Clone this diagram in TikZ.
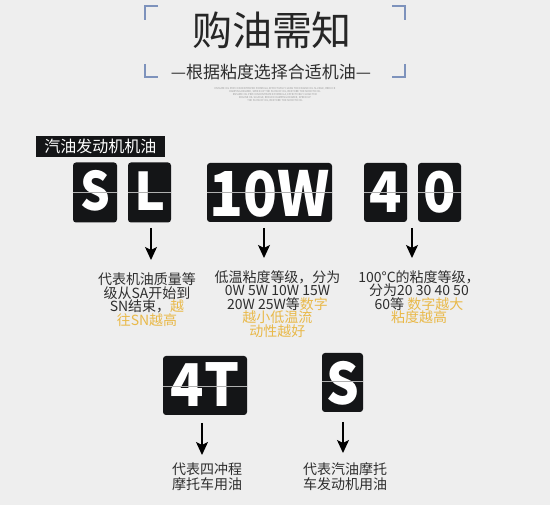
\documentclass[tikz,border=0pt]{standalone}
\usepackage{fontspec}
\setmainfont{Noto Sans CJK SC}
\usetikzlibrary{arrows.meta}
\definecolor{bg}{HTML}{EEEEEE}
\definecolor{tilec}{HTML}{141517}
\definecolor{gold}{HTML}{E9B949}
\definecolor{txt}{HTML}{2E2E2E}
\definecolor{brk}{HTML}{7D92BC}
\definecolor{midc}{HTML}{B0B0B0}
\newcommand{\tiletext}[3]{\fontsize{#1}{#1}\selectfont\bfseries\scalebox{#2}[1]{#3}}
\begin{document}
\begin{tikzpicture}[x=1pt,y=-1pt,
  tilebox/.style={fill=tilec, rounded corners=3pt, draw=none, inner sep=0pt},
  tiletxt/.style={text=white, inner sep=0pt, anchor=base},
  midline/.style={draw=midc, line width=0.8pt},
  brkline/.style={draw=brk, line width=1.3pt},
  arr/.style={draw=black, line width=1.3pt, -{Stealth[length=13pt,width=12pt,inset=3pt]}},
  desc/.style={text=txt, inner sep=0pt, anchor=north, align=center, font=\fontsize{14}{13.6}\selectfont},
  desc2/.style={text=txt, inner sep=0pt, anchor=north, align=center, font=\fontsize{14}{15}\selectfont}
]
\fill[bg] (0,0) rectangle (550,505);
\useasboundingbox (0,0) rectangle (550,505);

% title
\node[text=black!85, inner sep=0pt, font=\fontsize{40}{40}\selectfont] (title) at (272,30) {购油需知};
\node[text=txt, inner sep=0pt, font=\fontsize{17}{17}\selectfont] (sub) at (271,72) {—根据粘度选择合适机油—};
\draw[brkline] (158,6) -- (145,6) -- (145,20);
\draw[brkline] (392,6) -- (405,6) -- (405,20);
\draw[brkline] (145,64) -- (145,77) -- (158,77);
\draw[brkline] (405,64) -- (405,77) -- (392,77);
\node[text=black!40, inner sep=0pt, align=center, font=\fontsize{2.6}{3}\selectfont] (tiny) at (275,95)
 {ENSURE OIL PER CONCENTRATED FORMULA, EFFECTIVELY CLEAN THE ENGINE OIL SLUDGE, REDUCE\\
  DAMPING DEGREE, SPEED UP THE FLOW OF OIL, RESTORE THE SMOOTH OIL\\
  ENSURE OIL PER CONCENTRATED FORMULA, EFFECTIVELY CLEAN THE\\
  ENGINE OIL SLUDGE, REDUCE DAMPING DEGREE, SPEED UP\\
  THE FLOW OF OIL, RESTORE THE SMOOTH OIL};

% label box
\node[fill=tilec, text=white, inner sep=0pt, minimum width=129, minimum height=21, font=\fontsize{16}{16}\selectfont] (lbl) at (100.5,146.5) {汽油发动机机油};

% top tiles
\node[tilebox, minimum width=44, minimum height=60] (tS) at (95,192.5) {};
\node[tilebox, minimum width=43, minimum height=60] (tL) at (149.5,192.5) {};
\node[tilebox, minimum width=125, minimum height=59] (tW) at (269.5,192.5) {};
\node[tilebox, minimum width=43, minimum height=59] (t4) at (385.5,192.5) {};
\node[tilebox, minimum width=43, minimum height=59] (t0) at (439.5,192.5) {};
\node[tiletxt] (cS) at (95,211) {\tiletext{53}{0.88}{S}};
\node[tiletxt] (cL) at (150,210.5) {\tiletext{52}{1}{L}};
\node[tiletxt] (cW) at (270,217) {\tiletext{62}{0.9}{10W}};
\node[tiletxt] (c4) at (385.5,213) {\tiletext{56}{0.95}{4}};
\node[tiletxt] (c0) at (439.5,213) {\tiletext{56}{0.95}{0}};
\foreach \t in {tS,tL,tW,t4,t0} \draw[midline] ([yshift=0.5]\t.west) -- ([yshift=0.5]\t.east);

% bottom tiles
\node[tilebox, minimum width=84, minimum height=59] (t4T) at (205,385.5) {};
\node[tilebox, minimum width=41, minimum height=59] (tS2) at (342.5,382.5) {};
\node[tiletxt] (c4T) at (205,407) {\tiletext{59}{0.93}{4T}};
\node[tiletxt] (cS2) at (343,404.5) {\tiletext{57}{0.9}{S}};
\draw[midline] ([yshift=-0.5]t4T.west) -- ([yshift=-0.5]t4T.east);
\draw[midline] ([yshift=1.5]tS2.west) -- ([yshift=1.5]tS2.east);

% arrows
\coordinate (a1s) at (151,228); \coordinate (a1e) at (151,260);
\coordinate (a2s) at (264,228); \coordinate (a2e) at (264,258);
\coordinate (a3s) at (412,228); \coordinate (a3e) at (412,258);
\coordinate (a4s) at (202,423); \coordinate (a4e) at (202,455);
\coordinate (a5s) at (343,422); \coordinate (a5e) at (343,453);
\draw[arr] (a1s) -- (a1e);
\draw[arr] (a2s) -- (a2e);
\draw[arr] (a3s) -- (a3e);
\draw[arr] (a4s) -- (a4e);
\draw[arr] (a5s) -- (a5e);

% descriptions
\node[desc] (d1) at (147,272.5) {代表机油质量等\\级从SA开始到\\SN结束，{\color{gold}越}\\{\color{gold}往SN越高}};
\node[desc] (d2) at (277.5,270) {低温粘度等级，分为\\0W 5W 10W 15W\\20W 25W等{\color{gold}数字}\\{\color{gold}越小低温流}\\{\color{gold}动性越好}};
\node[desc] (d3) at (419,270) {100°C的粘度等级，\\分为20 30 40 50\\60等 {\color{gold}数字越大}\\{\color{gold}粘度越高}};
\node[desc2] (d4) at (207,462.5) {代表四冲程\\摩托车用油};
\node[desc2] (d5) at (345,462) {代表汽油摩托\\车发动机用油};
\end{tikzpicture}
\end{document}
